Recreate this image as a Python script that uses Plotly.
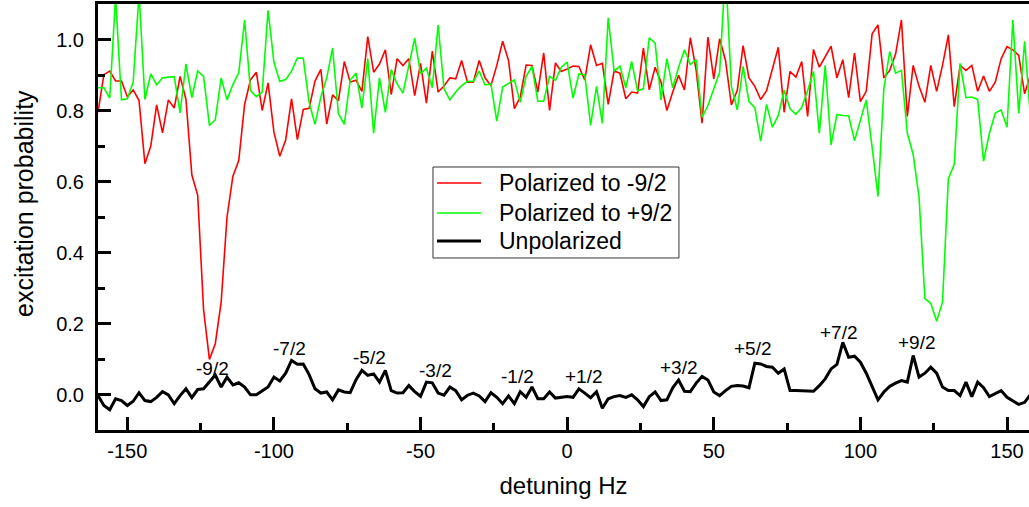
import plotly.graph_objects as go

# Detuning scan, 2 Hz steps
detuning = list(range(-160, 160, 2))

polarized_minus = [
    0.795, 0.901, 0.911, 0.883, 0.883, 0.839, 0.858, 0.828, 0.650, 0.700,
    0.816, 0.737, 0.830, 0.807, 0.896, 0.831, 0.619, 0.561, 0.239, 0.099,
    0.143, 0.260, 0.500, 0.615, 0.659, 0.817, 0.886, 0.908, 0.800, 0.878,
    0.739, 0.671, 0.717, 0.833, 0.718, 0.803, 0.806, 0.883, 0.916, 0.762,
    0.844, 0.828, 0.938, 0.880, 0.885, 0.854, 1.008, 0.908, 0.931, 0.971,
    0.845, 0.946, 0.927, 0.946, 0.842, 0.933, 0.821, 0.967, 0.852, 0.869,
    0.892, 0.889, 0.941, 0.880, 0.880, 0.941, 0.892, 0.870, 0.927, 0.995,
    0.941, 0.805, 0.838, 0.928, 0.927, 0.852, 0.962, 0.800, 0.934, 0.910,
    0.917, 0.925, 0.924, 0.886, 0.985, 0.927, 0.933, 0.817, 0.911, 0.905,
    0.833, 0.852, 0.849, 0.976, 0.858, 0.922, 0.880, 0.800, 0.852, 0.899,
    0.858, 1.005, 0.913, 0.764, 1.007, 0.889, 1.002, 0.941, 0.816, 0.856,
    0.983, 0.892, 0.868, 0.831, 0.856, 0.917, 0.978, 0.795, 0.910, 0.894,
    0.938, 0.783, 0.972, 0.922, 0.950, 0.981, 0.892, 0.943, 0.836, 0.962,
    0.825, 0.854, 1.016, 1.041, 0.892, 0.913, 0.959, 1.055, 0.783, 0.927,
    0.868, 0.823, 0.927, 0.854, 0.927, 1.013, 0.811, 0.927, 0.913, 0.927,
    0.854, 0.897, 0.854, 0.880, 0.946, 0.980, 0.971, 0.955, 0.847, 0.900,
]

polarized_plus = [
    0.864, 0.864, 0.835, 1.120, 0.830, 0.833, 0.880, 1.130, 0.831, 0.903,
    0.872, 0.892, 0.894, 0.895, 0.793, 0.931, 0.836, 0.911, 0.896, 0.758,
    0.774, 0.892, 0.830, 0.873, 0.906, 1.055, 0.856, 0.839, 0.852, 1.082,
    0.936, 0.882, 0.887, 0.911, 0.948, 0.947, 0.823, 0.761, 0.838, 0.892,
    0.976, 0.791, 0.761, 0.886, 0.905, 0.807, 0.946, 0.736, 0.892, 0.795,
    0.915, 0.875, 0.849, 0.931, 1.004, 0.903, 0.919, 0.864, 1.041, 0.861,
    0.830, 0.852, 0.870, 0.882, 0.882, 0.911, 0.872, 0.875, 0.770, 0.866,
    0.875, 0.886, 0.823, 0.896, 0.924, 0.826, 0.826, 0.896, 0.885, 0.922,
    0.936, 0.835, 0.903, 0.901, 0.758, 0.868, 0.764, 1.061, 0.911, 0.925,
    0.864, 0.938, 0.856, 0.861, 1.005, 0.990, 0.830, 0.946, 0.864, 0.922,
    0.971, 0.930, 0.943, 0.781, 0.814, 0.861, 0.908, 1.200, 0.868, 0.802,
    0.924, 0.825, 0.808, 0.714, 0.817, 0.753, 0.786, 0.858, 0.805, 0.789,
    0.809, 0.856, 0.910, 0.736, 0.927, 0.703, 0.789, 0.786, 0.785, 0.715,
    0.775, 0.830, 0.697, 0.558, 0.861, 0.966, 0.905, 0.913, 0.736, 0.676,
    0.556, 0.270, 0.257, 0.206, 0.260, 0.608, 0.648, 0.933, 0.836, 0.838,
    0.831, 0.657, 0.736, 0.793, 0.802, 0.753, 1.055, 0.792, 0.995, 0.780,
]

unpolarized = [
    -0.003, -0.031, -0.043, -0.012, -0.017, -0.031, -0.019, 0.005, -0.017, -0.020,
    -0.008, 0.008, -0.001, -0.026, -0.003, 0.016, -0.009, 0.014, 0.016, 0.035,
    0.055, 0.021, 0.049, 0.027, 0.033, 0.021, -0.001, -0.001, 0.011, 0.021,
    0.049, 0.038, 0.060, 0.096, 0.085, 0.086, 0.056, 0.016, 0.004, 0.007,
    -0.015, 0.013, 0.007, 0.005, 0.042, 0.068, 0.054, 0.058, 0.035, 0.068,
    0.011, 0.004, 0.005, 0.025, 0.008, -0.005, 0.035, 0.033, 0.004, -0.002,
    0.021, 0.011, -0.015, -0.002, 0.004, -0.004, -0.020, 0.005, -0.008, -0.026,
    -0.004, -0.026, 0.008, -0.008, 0.021, -0.012, -0.012, 0.007, -0.010, -0.008,
    -0.006, -0.008, 0.016, 0.004, -0.009, 0.008, -0.039, -0.012, -0.006, -0.003,
    -0.008, -0.001, -0.015, -0.034, -0.006, 0.007, -0.017, -0.015, 0.019, 0.041,
    0.009, 0.008, 0.032, 0.051, 0.041, 0.007, -0.003, 0.011, 0.023, 0.025,
    0.024, 0.019, 0.088, 0.086, 0.079, 0.077, 0.060, 0.072, 0.011, 0.011,
    0.010, 0.009, 0.009, 0.025, 0.044, 0.072, 0.085, 0.147, 0.105, 0.108,
    0.091, 0.060, 0.023, -0.015, 0.007, 0.023, 0.032, 0.039, 0.035, 0.110,
    0.049, 0.060, 0.077, 0.060, 0.021, 0.011, 0.011, -0.003, 0.035, -0.006,
    0.035, 0.019, -0.006, 0.002, 0.011, -0.008, -0.019, -0.028, -0.022, 0.000,
]

series_names = ["Polarized to -9/2", "Polarized to +9/2", "Unpolarized"]

# Spin-state labels for the unpolarized resonances
state_labels = ["-9/2", "-7/2", "-5/2", "-3/2", "-1/2",
                "+1/2", "+3/2", "+5/2", "+7/2", "+9/2"]
label_x = [-121, -94.7, -67.4, -45, -17, 5.8, 38, 63.3, 92.6, 119.4]
label_y = [0.072, 0.129, 0.103, 0.068, 0.052, 0.051, 0.075, 0.129, 0.176, 0.147]

x_ticks = [-150, -100, -50, 0, 50, 100, 150]
x_tick_text = ["-150", "-100", "-50", "0", "50", "100", "150"]
y_ticks = [0.0, 0.2, 0.4, 0.6, 0.8, 1.0]
y_tick_text = ["0.0", "0.2", "0.4", "0.6", "0.8", "1.0"]

FONT = "Liberation Sans, Arial, sans-serif"
colors = ["#FF0000", "#00FF00", "#000000"]
widths = [1.6, 1.6, 3]

fig = go.Figure()
for name, ys, c, w in zip(series_names,
                          [polarized_minus, polarized_plus, unpolarized],
                          colors, widths):
    fig.add_trace(go.Scatter(x=detuning, y=ys, mode="lines", name=name,
                             line=dict(color=c, width=w), showlegend=False))

for txt, lx, ly in zip(state_labels, label_x, label_y):
    fig.add_annotation(x=lx, y=ly, text=txt, showarrow=False,
                       xanchor="center", yanchor="middle",
                       font=dict(family=FONT, size=19, color="#000000"))

# Boxed key in the middle of the plot (paper coordinates)
key_box = dict(x0=0.3598, x1=0.6240, y0=0.4038, y1=0.6174)
key_rows_y = [0.5798, 0.5094, 0.4437]
key_line_x = (0.3641, 0.4114)
key_text_x = 0.4286

fig.add_shape(type="rect", xref="paper", yref="paper", **key_box,
              line=dict(color="#333333", width=1), fillcolor="white", layer="above")
for name, c, w, ky in zip(series_names, colors, widths, key_rows_y):
    fig.add_shape(type="line", xref="paper", yref="paper",
                  x0=key_line_x[0], x1=key_line_x[1], y0=ky, y1=ky,
                  line=dict(color=c, width=w), layer="above")
    fig.add_annotation(xref="paper", yref="paper", x=key_text_x, y=ky,
                       text=name, showarrow=False, xanchor="left",
                       yanchor="middle",
                       font=dict(family=FONT, size=23, color="#000000"))

# y-axis title
fig.add_annotation(xref="paper", yref="paper", x=-0.0795, y=0.533,
                   text="excitation probability", textangle=-90,
                   showarrow=False, xanchor="center", yanchor="middle",
                   font=dict(family=FONT, size=25, color="#000000"))

fig.update_layout(
    width=1029, height=507,
    margin=dict(l=98, r=0, t=4, b=77),
    paper_bgcolor="white", plot_bgcolor="white",
    font=dict(family=FONT, color="#000000"),
    showlegend=False,
    xaxis=dict(range=[-160, 157.5], tickvals=x_ticks, ticktext=x_tick_text,
               ticks="inside", ticklen=13, tickwidth=2.5, tickcolor="#000000",
               minor=dict(dtick=25, tick0=0, ticks="inside", ticklen=7,
                          tickwidth=2.5, tickcolor="#000000"),
               showline=True, linewidth=3, linecolor="#000000", mirror=True,
               showgrid=False, zeroline=False,
               tickfont=dict(family=FONT, size=20),
               ticklabelstandoff=1,
               title=dict(text="detuning Hz", font=dict(family=FONT, size=24),
                          standoff=17)),
    yaxis=dict(range=[-0.1, 1.1], tickvals=y_ticks, ticktext=y_tick_text,
               ticks="inside", ticklen=13, tickwidth=2.5, tickcolor="#000000",
               minor=dict(dtick=0.1, tick0=0, ticks="inside", ticklen=7,
                          tickwidth=2.5, tickcolor="#000000"),
               showline=True, linewidth=3, linecolor="#000000", mirror=False,
               showgrid=False, zeroline=False,
               tickfont=dict(family=FONT, size=20),
               ticklabelstandoff=7),
)

fig.write_html("out.html")
